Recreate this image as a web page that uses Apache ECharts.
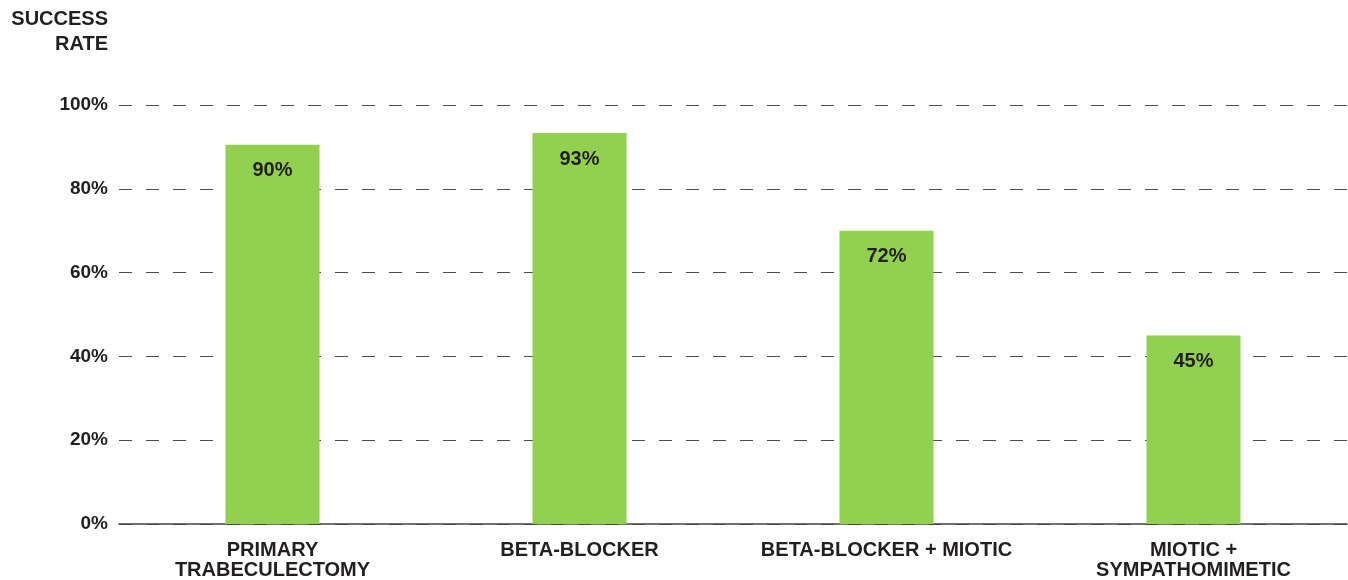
<!DOCTYPE html>
<html>
<head>
<meta charset="utf-8">
<script src="https://cdn.jsdelivr.net/npm/echarts@6/dist/echarts.min.js"></script>
<style>
html,body{margin:0;padding:0;background:#fff;}
#chart{width:1348px;height:580px;}
</style>
</head>
<body>
<div id="chart"></div>
<script>
var categories = ['PRIMARY\nTRABECULECTOMY', 'BETA-BLOCKER', 'BETA-BLOCKER + MIOTIC', 'MIOTIC +\nSYMPATHOMIMETIC'];
var values = [90.5, 93.3, 70, 45];
var valueLabels = ['90%', '93%', '72%', '45%'];
var yTicks = [0, 20, 40, 60, 80, 100];

var FONT = 'Liberation Sans, Arial, sans-serif';
var chart = echarts.init(document.getElementById('chart'));
chart.setOption({
  animation: false,
  backgroundColor: '#ffffff',
  title: {
    text: 'SUCCESS\nRATE',
    left: 108,
    top: 7,
    textAlign: 'right',
    padding: 0,
    textStyle: {fontFamily: FONT, fontWeight: 'bold', fontSize: 20, lineHeight: 25, color: '#231f20', align: 'right'}
  },
  grid: {left: 119, right: 1, top: 105, bottom: 53, containLabel: false},
  xAxis: {
    type: 'category',
    data: categories,
    axisLine: {show: true, lineStyle: {color: '#444444', width: 1.5}},
    axisTick: {show: false},
    axisLabel: {
      interval: 0, margin: 16,
      fontFamily: FONT, fontWeight: 'bold', fontSize: 20, lineHeight: 20, color: '#231f20'
    }
  },
  yAxis: {
    type: 'value',
    min: yTicks[0], max: yTicks[yTicks.length - 1], interval: 20,
    axisLine: {show: false},
    axisTick: {show: false},
    splitLine: {show: true, lineStyle: {color: '#4d4d4d', width: 1.2, type: [13, 14]}},
    axisLabel: {
      margin: 11,
      fontFamily: FONT, fontWeight: 'bold', fontSize: 19, color: '#231f20',
      formatter: function (v) { return v + '%'; }
    }
  },
  series: [{
    type: 'bar',
    data: values,
    barWidth: 94,
    itemStyle: {color: '#92d050'},
    label: {
      show: true, position: 'insideTop', distance: 16,
      fontFamily: FONT, fontWeight: 'bold', fontSize: 20, color: '#231f20',
      formatter: function (p) { return valueLabels[p.dataIndex]; }
    }
  }]
});
</script>
</body>
</html>
